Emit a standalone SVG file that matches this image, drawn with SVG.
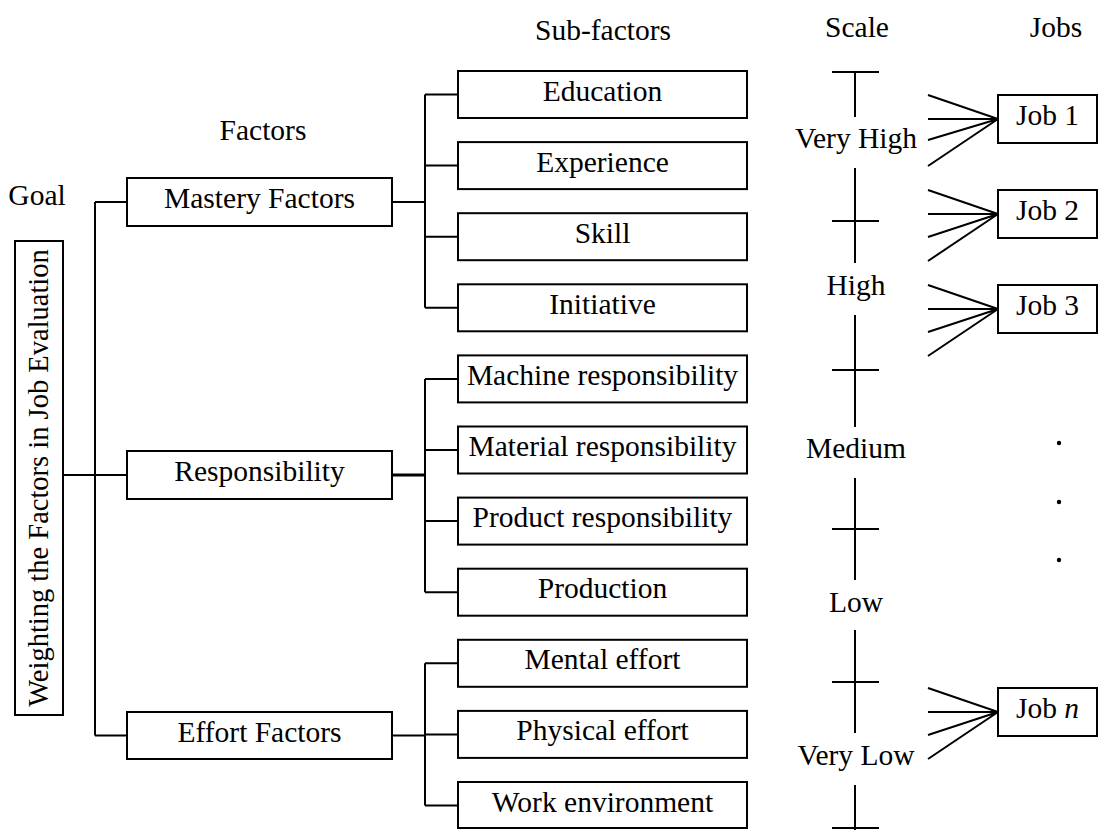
<svg xmlns="http://www.w3.org/2000/svg" width="1114" height="830" viewBox="0 0 1114 830">
<style>
  .box { fill: #fff; stroke: #000; stroke-width: 2; }
  .ln { stroke: #000; stroke-width: 2; fill: none; }
  text { font-family: 'Liberation Serif', 'DejaVu Serif', serif; font-size: 29.5px; fill: #000; text-anchor: middle; }
  .g { font-size: 28.5px; }
</style>
<rect width="1114" height="830" fill="#fff"/>

<g id="headers">
  <text x="37" y="205">Goal</text>
  <text x="263" y="140">Factors</text>
  <text x="603" y="40">Sub-factors</text>
  <text x="857" y="37">Scale</text>
  <text x="1056" y="37">Jobs</text>
</g>

<g id="connectors">
  <line class="ln" x1="63" y1="475" x2="127" y2="475"/>
  <line class="ln" x1="95" y1="202" x2="95" y2="735.5"/>
  <line class="ln" x1="95" y1="202" x2="127" y2="202"/>
  <line class="ln" x1="95" y1="735.5" x2="127" y2="735.5"/>
  <line class="ln" x1="392" y1="202" x2="425" y2="202"/>
  <line class="ln" x1="425" y1="94.5" x2="425" y2="307.8"/>
  <line class="ln" x1="425" y1="94.5" x2="458" y2="94.5"/>
  <line class="ln" x1="425" y1="165.6" x2="458" y2="165.6"/>
  <line class="ln" x1="425" y1="236.7" x2="458" y2="236.7"/>
  <line class="ln" x1="425" y1="307.8" x2="458" y2="307.8"/>
  <line class="ln" x1="392" y1="475" x2="425" y2="475" style="stroke-width:3"/>
  <line class="ln" x1="425" y1="378.9" x2="425" y2="592.2"/>
  <line class="ln" x1="425" y1="378.9" x2="458" y2="378.9"/>
  <line class="ln" x1="425" y1="450" x2="458" y2="450"/>
  <line class="ln" x1="425" y1="521.1" x2="458" y2="521.1"/>
  <line class="ln" x1="425" y1="592.2" x2="458" y2="592.2"/>
  <line class="ln" x1="392" y1="735.5" x2="425" y2="735.5"/>
  <line class="ln" x1="425" y1="663.3" x2="425" y2="805.5"/>
  <line class="ln" x1="425" y1="663.3" x2="458" y2="663.3"/>
  <line class="ln" x1="425" y1="734.4" x2="458" y2="734.4"/>
  <line class="ln" x1="425" y1="805.5" x2="458" y2="805.5"/>
  <path class="ln" d="M928,95 L998,119 M928,119 L998,119 M928,140 L998,119 M928,166 L998,119"/>
  <path class="ln" d="M928,190 L998,214 M928,214 L998,214 M928,237 L998,214 M928,261 L998,214"/>
  <path class="ln" d="M928,285 L998,309 M928,309 L998,309 M928,332 L998,309 M928,356 L998,309"/>
  <path class="ln" d="M928,688 L998,712 M928,712 L998,712 M928,735 L998,712 M928,759 L998,712"/>
</g>

<g id="goal">
  <rect class="box" x="15" y="241" width="48" height="474"/>
  <text class="g" transform="translate(48,478) rotate(-90)">Weighting the Factors in Job Evaluation</text>
</g>

<g id="mastery">
  <rect class="box" x="127" y="178" width="265" height="48"/>
  <text x="259.5" y="208">Mastery Factors</text>
</g>
<g id="responsibility">
  <rect class="box" x="127" y="451" width="265" height="48"/>
  <text x="259.5" y="481">Responsibility</text>
</g>
<g id="effort">
  <rect class="box" x="127" y="712" width="265" height="47"/>
  <text x="259.5" y="741.5">Effort Factors</text>
</g>

<g id="education"><rect class="box" x="458" y="71" width="289" height="47"/><text x="602.5" y="100.5">Education</text></g>
<g id="experience"><rect class="box" x="458" y="142.1" width="289" height="47"/><text x="602.5" y="171.6">Experience</text></g>
<g id="skill"><rect class="box" x="458" y="213.2" width="289" height="47"/><text x="602.5" y="242.7">Skill</text></g>
<g id="initiative"><rect class="box" x="458" y="284.3" width="289" height="47"/><text x="602.5" y="313.8">Initiative</text></g>
<g id="machine"><rect class="box" x="458" y="355.4" width="289" height="47"/><text x="602.5" y="384.9">Machine responsibility</text></g>
<g id="material"><rect class="box" x="458" y="426.5" width="289" height="47"/><text x="602.5" y="456">Material responsibility</text></g>
<g id="product"><rect class="box" x="458" y="497.6" width="289" height="47"/><text x="602.5" y="527.1">Product responsibility</text></g>
<g id="production"><rect class="box" x="458" y="568.7" width="289" height="47"/><text x="602.5" y="598.2">Production</text></g>
<g id="mental"><rect class="box" x="458" y="639.8" width="289" height="47"/><text x="602.5" y="669.3">Mental effort</text></g>
<g id="physical"><rect class="box" x="458" y="710.9" width="289" height="47"/><text x="602.5" y="740.4">Physical effort</text></g>
<g id="work"><rect class="box" x="458" y="782" width="289" height="46"/><text x="602.5" y="811.5">Work environment</text></g>

<g id="scale">
  <path class="ln" d="M855,72 V117 M855,168 V263 M855,315 V427 M855,478 V580 M855,630 V733 M855,785 V830"/>
  <path class="ln" d="M832,72 H879 M832,221 H879 M832,370 H879 M832,529 H879 M832,682 H879 M832,828 H879"/>
  <text x="856" y="148">Very High</text>
  <text x="856" y="295">High</text>
  <text x="856" y="458">Medium</text>
  <text x="856" y="612">Low</text>
  <text x="856" y="765">Very Low</text>
</g>

<g id="job1"><rect class="box" x="998" y="95" width="99" height="48"/><text x="1047.5" y="125">Job 1</text></g>
<g id="job2"><rect class="box" x="998" y="190" width="99" height="48"/><text x="1047.5" y="220">Job 2</text></g>
<g id="job3"><rect class="box" x="998" y="285" width="99" height="48"/><text x="1047.5" y="315">Job 3</text></g>
<g id="jobn"><rect class="box" x="998" y="688" width="99" height="48"/><text x="1047.5" y="718">Job <tspan font-style="italic">n</tspan></text></g>

<g id="dots">
  <circle cx="1059" cy="443" r="2.2" fill="#000"/>
  <circle cx="1059" cy="502" r="2.2" fill="#000"/>
  <circle cx="1059" cy="560" r="2.2" fill="#000"/>
</g>
</svg>
